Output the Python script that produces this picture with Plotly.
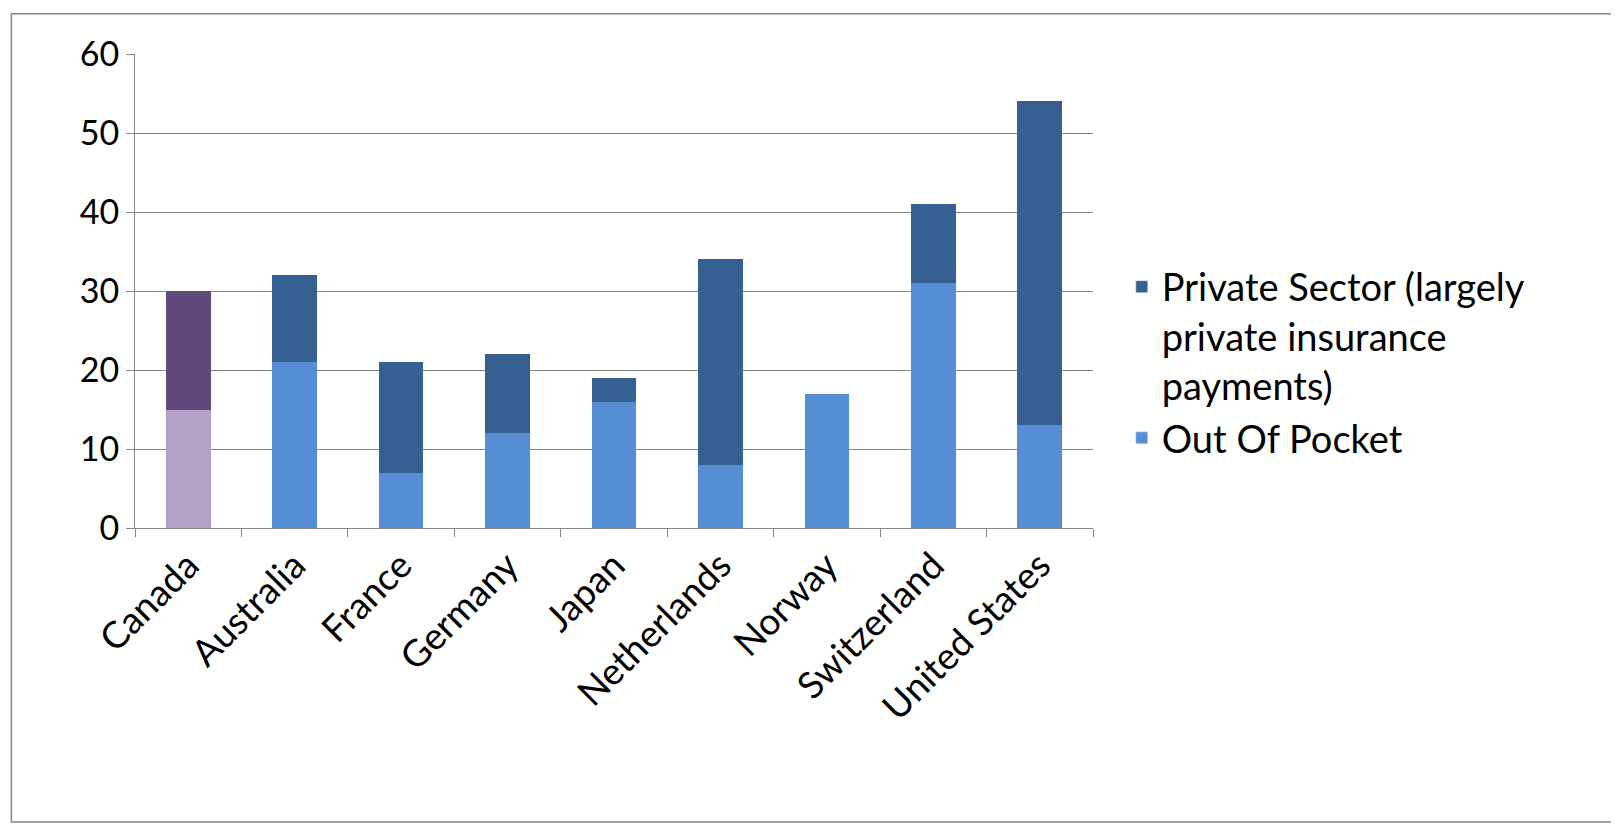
import plotly.graph_objects as go

countries = ["Canada","Australia","France","Germany","Japan","Netherlands","Norway","Switzerland","United States"]
out_of_pocket = [15,21,7,12,16,8,17,31,13]
private_sector = [15,11,14,10,3,26,0,10,41]

oop_colors = ["#b3a2c7"] + ["#558ed5"]*8
ps_colors = ["#604a7b"] + ["#376092"]*8

fig = go.Figure()
fig.add_bar(x=countries, y=out_of_pocket, showlegend=False, marker=dict(color=oop_colors, line_width=0))
fig.add_bar(x=countries, y=private_sector, showlegend=False, marker=dict(color=ps_colors, line_width=0))
fig.add_bar(x=[countries[0]], y=[None], name="Out Of Pocket", marker=dict(color="#558ed5"))
fig.add_bar(x=[countries[0]], y=[None], name="Private Sector (largely<br>private insurance<br>payments)",
            marker=dict(color="#376092"))

font = "Lato, Liberation Sans, sans-serif"
fig.update_layout(
    barmode="stack", bargap=0.58, width=1619, height=825,
    margin=dict(l=127, r=534, t=46, b=305),
    plot_bgcolor="white", paper_bgcolor="white",
    font=dict(family=font, size=34, color="black"),
    legend=dict(x=1.03, y=0.575, xanchor="left", yanchor="top", traceorder="reversed",
                font=dict(size=38), valign="top", tracegroupgap=14),
    xaxis=dict(tickangle=-45, showline=True, linecolor="#868686", ticks="outside", automargin=False,
               tickson="boundaries", tickcolor="#868686", ticklen=8, tickfont=dict(size=37)),
    yaxis=dict(range=[0,60], dtick=10, showgrid=True, gridcolor="#868686", showline=True, automargin=False,
               linecolor="#868686", ticks="outside", tickcolor="#868686", ticklen=8, zeroline=False),
    shapes=[dict(type="rect", xref="paper", yref="paper", x0=-0.129, x1=1.602, y0=-0.62, y1=1.085,
                 line=dict(color="#868686", width=1.5))],
)
fig.write_html("out.html")
